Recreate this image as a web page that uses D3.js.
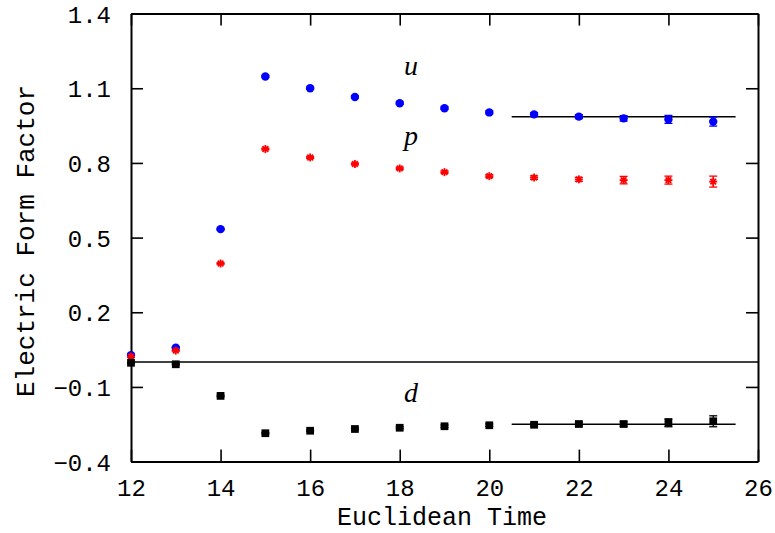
<!DOCTYPE html>
<html>
<head>
<meta charset="utf-8">
<script src="https://cdn.jsdelivr.net/npm/d3@7"></script>
<style>
  html, body { margin: 0; padding: 0; background: #fff; }
  svg { display: block; }
  .tick text { font-family: "Liberation Mono", "DejaVu Sans Mono", monospace; }
</style>
</head>
<body>
<svg id="chart" width="775" height="533"></svg>
<script>
// Euclidean time slices
const times = [12, 13, 14, 15, 16, 17, 18, 19, 20, 21, 22, 23, 24, 25];

// u-quark contribution (blue circles)
const uValues = [0.028, 0.058, 0.534, 1.147, 1.100, 1.065, 1.040, 1.020, 1.003, 0.995, 0.986, 0.979, 0.975, 0.966];
const uErrors = [0.002, 0.002, 0.003, 0.004, 0.004, 0.004, 0.005, 0.005, 0.006, 0.007, 0.008, 0.011, 0.016, 0.018];

// proton (red stars)
const pValues = [0.022, 0.046, 0.396, 0.856, 0.822, 0.796, 0.778, 0.763, 0.747, 0.741, 0.734, 0.731, 0.731, 0.725];
const pErrors = [0.002, 0.002, 0.003, 0.004, 0.004, 0.004, 0.005, 0.005, 0.006, 0.007, 0.008, 0.015, 0.016, 0.022];

// d-quark contribution (black squares)
const dValues = [-0.003, -0.009, -0.136, -0.286, -0.276, -0.269, -0.264, -0.258, -0.254, -0.252, -0.249, -0.249, -0.244, -0.238];
const dErrors = [0.002, 0.002, 0.003, 0.003, 0.003, 0.004, 0.004, 0.005, 0.005, 0.006, 0.007, 0.009, 0.016, 0.022];

// plateau fits
const fitRange = [20.5, 25.5];
const uFit = 0.986;
const dFit = -0.250;

// axis ticks
const xTicks = [12, 14, 16, 18, 20, 22, 24, 26];
const yTicks = [1.4, 1.1, 0.8, 0.5, 0.2, -0.1, -0.4];
const yTickLabels = ["1.4", "1.1", "0.8", "0.5", "0.2", "\u22120.1", "\u22120.4"];

const svg = d3.select("#chart");
const plotLeft = 131, plotRight = 758, plotTop = 13.6, plotBottom = 461.6;

const x = d3.scaleLinear().domain([12, 26]).range([plotLeft, plotRight]);
const y = d3.scaleLinear().domain([-0.4, 1.4]).range([plotBottom, plotTop]);

// zero line
svg.append("line")
  .attr("x1", x(12)).attr("x2", x(26))
  .attr("y1", y(0)).attr("y2", y(0))
  .attr("stroke", "#000").attr("stroke-width", 1.6);

// plateau fit lines
[uFit, dFit].forEach(v => {
  svg.append("line")
    .attr("x1", x(fitRange[0])).attr("x2", x(fitRange[1]))
    .attr("y1", y(v)).attr("y2", y(v))
    .attr("stroke", "#000").attr("stroke-width", 1.5);
});

// axes with inward ticks on all sides
function styleAxis(g) {
  g.select(".domain").attr("stroke", "#000").attr("stroke-width", 2);
  g.selectAll(".tick line").attr("stroke", "#000").attr("stroke-width", 1.6);
}

const gx = svg.append("g").attr("transform", `translate(0,${plotBottom})`)
  .call(d3.axisBottom(x).tickValues(xTicks).tickSize(-12).tickSizeOuter(0).tickFormat(d3.format("d")))
  .call(styleAxis);
gx.selectAll(".tick text")
  .attr("y", 34).attr("dy", null)
  .attr("font-size", 24).attr("fill", "#000");

svg.append("g").attr("transform", `translate(0,${plotTop})`)
  .call(d3.axisTop(x).tickValues(xTicks).tickSize(-12).tickSizeOuter(0).tickFormat(""))
  .call(styleAxis);

const gy = svg.append("g").attr("transform", `translate(${plotLeft},0)`)
  .call(d3.axisLeft(y).tickValues(yTicks).tickSize(-12).tickSizeOuter(0)
    .tickFormat((d, i) => yTickLabels[i]))
  .call(styleAxis);
gy.selectAll(".tick text")
  .attr("x", -20).attr("dy", "0.35em")
  .attr("font-size", 24).attr("fill", "#000");

svg.append("g").attr("transform", `translate(${plotRight},0)`)
  .call(d3.axisRight(y).tickValues(yTicks).tickSize(-12).tickSizeOuter(0).tickFormat(""))
  .call(styleAxis);

// axis titles
svg.append("text")
  .attr("x", 442).attr("y", 525)
  .attr("text-anchor", "middle")
  .attr("font-family", "Liberation Mono, DejaVu Sans Mono, monospace")
  .attr("font-size", 25)
  .text("Euclidean Time");

svg.append("text")
  .attr("transform", "translate(34,241) rotate(-90)")
  .attr("text-anchor", "middle")
  .attr("font-family", "Liberation Mono, DejaVu Sans Mono, monospace")
  .attr("font-size", 26)
  .text("Electric Form Factor");

// error bars
function errorBars(values, errors, color) {
  const g = svg.append("g").attr("stroke", color).attr("stroke-width", 1.3);
  times.forEach((t, i) => {
    const cx = x(t), y1 = y(values[i] - errors[i]), y2 = y(values[i] + errors[i]);
    g.append("line").attr("x1", cx).attr("x2", cx).attr("y1", y1).attr("y2", y2);
    g.append("line").attr("x1", cx - 4).attr("x2", cx + 4).attr("y1", y1).attr("y2", y1);
    g.append("line").attr("x1", cx - 4).attr("x2", cx + 4).attr("y1", y2).attr("y2", y2);
  });
}
errorBars(uValues, uErrors, "#0000ff");
errorBars(pValues, pErrors, "#ff0000");
errorBars(dValues, dErrors, "#000");

// u: blue circles
svg.append("g").selectAll("circle").data(times).join("circle")
  .attr("cx", d => x(d)).attr("cy", (d, i) => y(uValues[i]))
  .attr("r", 4.2).attr("fill", "#0000ff");

// p: red eight-armed asterisks
const starArms = [0, 45, 90, 135];
const pG = svg.append("g").selectAll("g").data(times).join("g")
  .attr("transform", (d, i) => `translate(${x(d)},${y(pValues[i])})`);
starArms.forEach(a => {
  pG.append("line")
    .attr("x1", -4).attr("x2", 4).attr("y1", 0).attr("y2", 0)
    .attr("transform", `rotate(${a})`)
    .attr("stroke", "#ff0000").attr("stroke-width", 1.8);
});
pG.append("circle").attr("r", 2).attr("fill", "#ff0000");

// d: black squares
svg.append("g").selectAll("path").data(times).join("path")
  .attr("transform", (d, i) => `translate(${x(d)},${y(dValues[i])})`)
  .attr("d", d3.symbol(d3.symbolSquare, 60)())
  .attr("fill", "#000");

// series labels
const labelFont = "Liberation Serif, DejaVu Serif, serif";
[["u", 75], ["p", 145], ["d", 402]].forEach(([s, by]) => {
  svg.append("text")
    .attr("x", 404).attr("y", by)
    .attr("font-family", labelFont)
    .attr("font-style", "italic")
    .attr("font-size", 28)
    .text(s);
});
</script>
</body>
</html>
